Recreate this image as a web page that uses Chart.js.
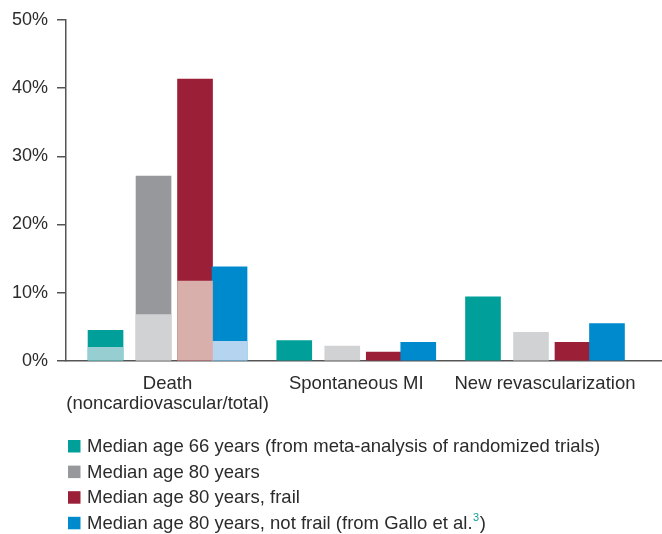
<!DOCTYPE html>
<html><head><meta charset="utf-8">
<script src="https://cdn.jsdelivr.net/npm/chart.js@4/dist/chart.umd.min.js"></script>
<style>html,body{margin:0;padding:0;background:#fff}canvas{display:block}</style>
</head><body>
<canvas id="c" width="662" height="534"></canvas>
<script>
// ---- data ----
const categories = [["Death", "(noncardiovascular/total)"], "Spontaneous MI", "New revascularization"];
const yTickValues = [0, 10, 20, 30, 40, 50];
const seriesNames = [
  "Median age 66 years (from meta-analysis of randomized trials)",
  "Median age 80 years",
  "Median age 80 years, frail",
  "Median age 80 years, not frail (from Gallo et al."
];
const footnoteRef = "3";
// totals (Death = total death)
const age66Total = [4.5, 3.0, 9.4];
const age80Total = [27.1, 2.2, 4.2];
const age80FrailTotal = [41.3, 1.3, 2.75];
const age80NotFrailTotal = [13.8, 2.75, 5.5];
// noncardiovascular death (only for Death)
const age66NonCv = [2.0, null, null];
const age80NonCv = [6.8, null, null];
const age80FrailNonCv = [11.7, null, null];
const age80NotFrailNonCv = [2.9, null, null];

// ---- styles / layout ----
const FONT = '"Liberation Sans", Arial, Helvetica, sans-serif';
const TEXT = '#2b2b2b';
const AXIS = '#555555';
const darkColors = ['#009f9a', '#97989c', '#9b1f37', '#008ace'];
const lightColors = ['#97ced2', '#d1d2d4', '#d9afab', '#b4d4ef'];
const totalsBySeries = [age66Total, age80Total, age80FrailTotal, age80NotFrailTotal];
const nonCvBySeries = [age66NonCv, age80NonCv, age80FrailNonCv, age80NotFrailNonCv];
const barOffsets = [-0.3285, -0.0742, 0.1457, 0.3285];
const legendColors = ['#009f9a', '#97989c', '#9b1f37', '#008ace'];
const FS = 18.5;

function pts(arr, off) {
  const out = [];
  arr.forEach((v, i) => { if (v !== null) out.push({x: i + off, y: v}); });
  return out;
}

const datasets = [];
totalsBySeries.forEach((arr, s) => {
  const colors = arr.map((v, i) => (s === 1 && i > 0) ? lightColors[1] : darkColors[s]);
  datasets.push({
    label: seriesNames[s], data: pts(arr, barOffsets[s]),
    backgroundColor: colors, order: 10 - s,
    barThickness: 35, grouped: false, borderWidth: 0
  });
});
nonCvBySeries.forEach((arr, s) => {
  datasets.push({
    label: seriesNames[s] + ' – noncardiovascular', data: pts(arr, barOffsets[s]),
    backgroundColor: lightColors[s], order: 1,
    barThickness: 35, grouped: false, borderWidth: 0
  });
});

const legendPlugin = {
  id: 'customLegend',
  afterDraw(chart) {
    const ctx = chart.ctx;
    ctx.save();
    ctx.textBaseline = 'middle';
    ctx.textAlign = 'left';
    seriesNames.forEach((name, i) => {
      const cy = 446 + i * 25.6;
      ctx.fillStyle = legendColors[i];
      ctx.fillRect(68, cy - 6, 12.5, 12.5);
      ctx.font = FS + 'px ' + FONT;
      ctx.fillStyle = TEXT;
      ctx.fillText(name, 87, cy + 1);
      if (i === 3) {
        let x = 87 + ctx.measureText(name).width + 0.5;
        ctx.font = '11px ' + FONT;
        ctx.fillStyle = '#13a3a0';
        ctx.fillText(footnoteRef, x, cy - 5);
        x += ctx.measureText(footnoteRef).width + 0.5;
        ctx.font = FS + 'px ' + FONT;
        ctx.fillStyle = TEXT;
        ctx.fillText(')', x, cy + 1);
      }
    });
    ctx.restore();
  }
};

Chart.defaults.font.family = FONT;
new Chart(document.getElementById('c'), {
  type: 'bar',
  data: { datasets },
  plugins: [legendPlugin],
  options: {
    responsive: false,
    animation: false,
    devicePixelRatio: 1,
    layout: { padding: { top: 16, left: 0, right: 0, bottom: 0 } },
    plugins: { legend: { display: false }, tooltip: { enabled: false } },
    scales: {
      x: {
        type: 'linear', min: -0.538, max: 2.62, offset: false,
        afterBuildTicks: s => { s.ticks = categories.map((c, i) => ({ value: i })); },
        afterFit: s => { s.height = 173; },
        ticks: {
          callback: v => categories[v], autoSkip: false, maxRotation: 0,
          font: { size: FS, lineHeight: 1.13 }, color: TEXT, padding: 4
        },
        grid: { display: false },
        border: { display: true, color: AXIS, width: 1.5 }
      },
      y: {
        min: 0, max: 50,
        afterBuildTicks: s => { s.ticks = yTickValues.map(v => ({ value: v })); },
        afterFit: s => { s.width = 66; },
        ticks: { callback: v => v + '%', font: { size: 18 }, color: TEXT, padding: 9 },
        grid: { display: true, drawOnChartArea: false, drawTicks: true, tickLength: 9, color: AXIS, lineWidth: 1.5 },
        border: { display: true, color: AXIS, width: 1.5 }
      }
    }
  }
});
</script>
</body></html>
